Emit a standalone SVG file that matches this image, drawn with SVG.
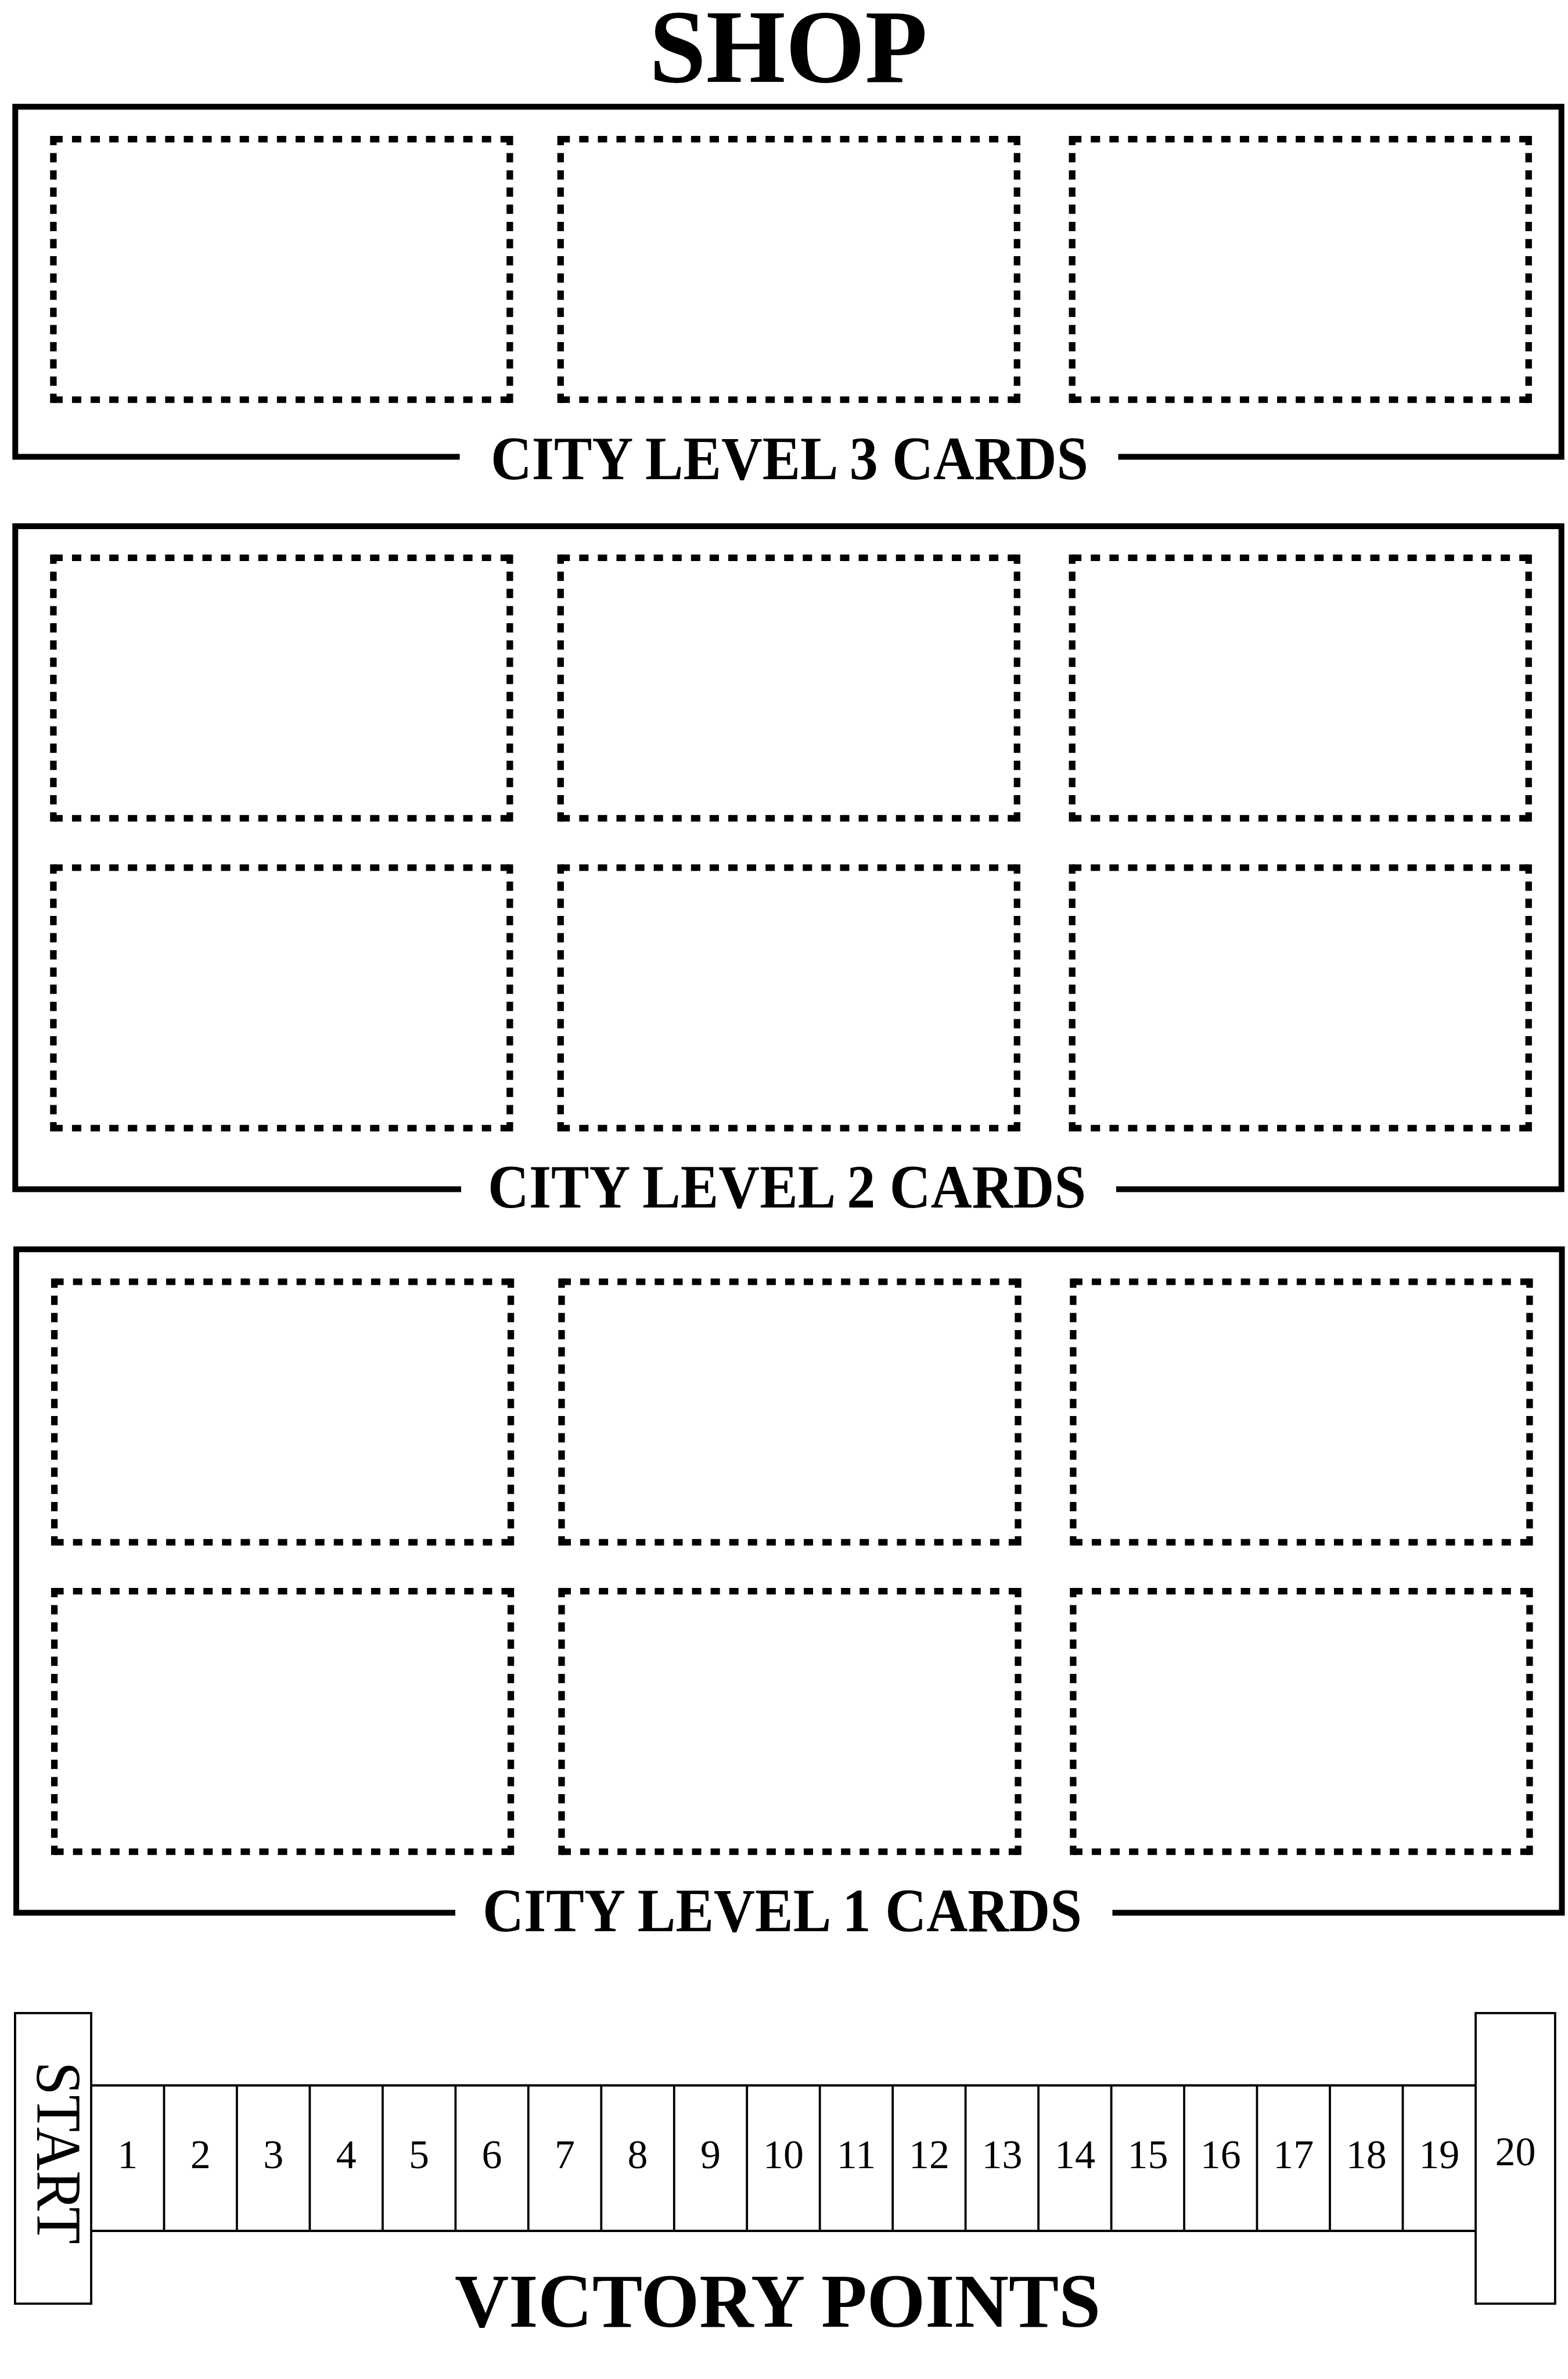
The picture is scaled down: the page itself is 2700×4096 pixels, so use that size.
<svg xmlns="http://www.w3.org/2000/svg" width="2700" height="4096" viewBox="0 0 2700 4096">
<style>
.box{fill:none;stroke:#000;stroke-width:10;stroke-linejoin:miter;stroke-linecap:butt}
.dh{fill:none;stroke:#000;stroke-width:11.3;stroke-dasharray:16 16.08}
.dv{fill:none;stroke:#000;stroke-width:11.3;stroke-dasharray:16 13.59}
.trk{fill:none;stroke:#000;stroke-width:3.8}
.head{font-family:"Liberation Serif","Times New Roman",serif;font-weight:bold;fill:#000}
.num{font-family:"Liberation Serif","Times New Roman",serif;font-size:70px;text-anchor:middle;fill:#000}
</style>
<defs>
<g id="slot">
<path class="dh" d="M0,0 H786 M0,448.5 H786"/>
<path class="dv" d="M0,-5.65 V454.15 M786,-5.65 V454.15"/>
</g>
</defs>
<rect width="2700" height="4096" fill="#fff"/>
<g id="title-shop"><text class="head" x="1118" y="141" font-size="180" textLength="479" lengthAdjust="spacingAndGlyphs">SHOP</text></g>
<g id="frame-level3">
<path class="box" d="M1925.5,786.6 H2688.7 V183.7 H26.3 V786.6 H791.6"/>
<text class="head" x="845" y="825" font-size="105" textLength="1029" lengthAdjust="spacingAndGlyphs">CITY LEVEL 3 CARDS</text>
</g>
<g id="slots-level3">
<g id="l3-slot-1"><use href="#slot" x="91.9" y="239.6"/></g>
<g id="l3-slot-2"><use href="#slot" x="965.3" y="239.6"/></g>
<g id="l3-slot-3"><use href="#slot" x="1846.2" y="239.6"/></g>
</g>
<g id="frame-level2">
<path class="box" d="M1922,2047.4 H2688.7 V906 H26.3 V2047.4 H794"/>
<text class="head" x="840" y="2079" font-size="105" textLength="1030" lengthAdjust="spacingAndGlyphs">CITY LEVEL 2 CARDS</text>
</g>
<g id="slots-level2">
<g id="l2-slot-1"><use href="#slot" x="91.9" y="960.3"/></g>
<g id="l2-slot-2"><use href="#slot" x="965.3" y="960.3"/></g>
<g id="l2-slot-3"><use href="#slot" x="1846.2" y="960.3"/></g>
<g id="l2-slot-4"><use href="#slot" x="91.9" y="1493.8"/></g>
<g id="l2-slot-5"><use href="#slot" x="965.3" y="1493.8"/></g>
<g id="l2-slot-6"><use href="#slot" x="1846.2" y="1493.8"/></g>
</g>
<g id="frame-level1">
<path class="box" d="M1915.5,3293.2 H2689.5 V2151 H28 V3293.2 H784"/>
<text class="head" x="831" y="3325" font-size="105" textLength="1032" lengthAdjust="spacingAndGlyphs">CITY LEVEL 1 CARDS</text>
</g>
<g id="slots-level1">
<g id="l1-slot-1"><use href="#slot" x="93.6" y="2206.9"/></g>
<g id="l1-slot-2"><use href="#slot" x="967" y="2206.9"/></g>
<g id="l1-slot-3"><use href="#slot" x="1847.9" y="2206.9"/></g>
<g id="l1-slot-4"><use href="#slot" x="93.6" y="2739.6"/></g>
<g id="l1-slot-5"><use href="#slot" x="967" y="2739.6"/></g>
<g id="l1-slot-6"><use href="#slot" x="1847.9" y="2739.6"/></g>
</g>
<g id="track">
<g id="start-box">
<rect class="trk" x="25.9" y="3466" width="131.1" height="500.3"/>
<text transform="translate(64.3,3706.6) rotate(90)" font-family="Liberation Serif, Times New Roman, serif" font-size="111" text-anchor="middle" textLength="314" lengthAdjust="spacingAndGlyphs">START</text>
</g>
<g id="cells">
<path class="trk" d="M157,3590.5 H2541 M157,3841 H2541 M282.5,3590.5 V3841 M407.9,3590.5 V3841 M533.4,3590.5 V3841 M658.9,3590.5 V3841 M784.4,3590.5 V3841 M909.8,3590.5 V3841 M1035.3,3590.5 V3841 M1160.8,3590.5 V3841 M1286.2,3590.5 V3841 M1411.7,3590.5 V3841 M1537.2,3590.5 V3841 M1662.6,3590.5 V3841 M1788.1,3590.5 V3841 M1913.6,3590.5 V3841 M2039.1,3590.5 V3841 M2164.5,3590.5 V3841 M2290,3590.5 V3841 M2415.5,3590.5 V3841"/>
<text class="num" x="219.7" y="3733">1</text>
<text class="num" x="345.2" y="3733">2</text>
<text class="num" x="470.7" y="3733">3</text>
<text class="num" x="596.2" y="3733">4</text>
<text class="num" x="721.6" y="3733">5</text>
<text class="num" x="847.1" y="3733">6</text>
<text class="num" x="972.6" y="3733">7</text>
<text class="num" x="1098" y="3733">8</text>
<text class="num" x="1223.5" y="3733">9</text>
<text class="num" x="1349" y="3733">10</text>
<text class="num" x="1474.5" y="3733">11</text>
<text class="num" x="1600" y="3733">12</text>
<text class="num" x="1725.4" y="3733">13</text>
<text class="num" x="1850.9" y="3733">14</text>
<text class="num" x="1976.4" y="3733">15</text>
<text class="num" x="2101.8" y="3733">16</text>
<text class="num" x="2227.3" y="3733">17</text>
<text class="num" x="2352.8" y="3733">18</text>
<text class="num" x="2478.3" y="3733">19</text>
</g>
<g id="end-box">
<rect class="trk" x="2541" y="3466" width="136.8" height="500.3"/>
<text class="num" x="2609.4" y="3728">20</text>
</g>
</g>
<g id="title-vp"><text class="head" x="783" y="4005.5" font-size="132" textLength="1112" lengthAdjust="spacingAndGlyphs">VICTORY POINTS</text></g>
</svg>
